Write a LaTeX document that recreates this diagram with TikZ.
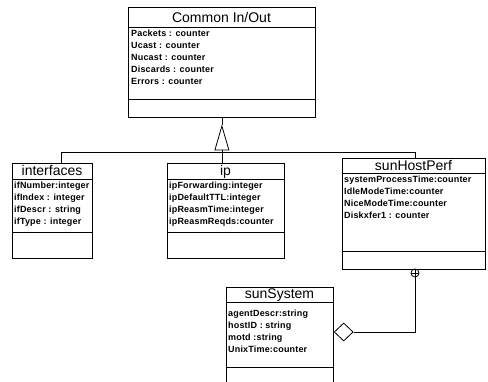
\documentclass[tikz,border=0pt]{standalone}
\usepackage{fontspec}
\setmainfont{Liberation Sans}
\newfontfamily\attrfont[LetterSpace=2]{Liberation Sans}
\usetikzlibrary{shapes.geometric}

\tikzset{
  classbox/.style={draw, line width=0.8pt, rectangle, anchor=north west, inner sep=0pt},
  classtitle/.style={anchor=base, inner sep=0pt, font=\fontsize{14}{16}\selectfont},
  attr/.style={anchor=base west, inner sep=0pt, font=\attrfont\bfseries\fontsize{9}{10}\selectfont},
  conn/.style={line width=0.8pt},
}

\begin{document}
\begin{tikzpicture}[x=1pt, y=-1pt]
\useasboundingbox (0,0) rectangle (488,381);
\clip (0,0) rectangle (488,381);
%
% Common In/Out
\node[classbox, minimum width=187pt, minimum height=110pt] (common) at (128,7) {};
\draw[conn] (common.west |- 0,27) -- (common.east |- 0,27);
\draw[conn] (common.west |- 0,99) -- (common.east |- 0,99);
\node[classtitle] (common-t) at (221.5,22.5) {Common In/Out};
\foreach \txt [count=\i] in {Packets : counter, Ucast : counter, Nucast : counter, Discards : counter, Errors : counter}
  \node[attr] (common-a\i) at (131,24+12*\i) {\txt};
%
% interfaces
\node[classbox, minimum width=80pt, minimum height=95pt] (interfaces) at (12,163) {};
\draw[conn] (interfaces.west |- 0,179) -- (interfaces.east |- 0,179);
\draw[conn] (interfaces.west |- 0,232) -- (interfaces.east |- 0,232);
\node[classtitle] (interfaces-t) at (52,175.5) {interfaces};
\foreach \txt [count=\i] in {ifNumber:integer, ifIndex : integer, ifDescr : string, ifType : integer}
  \node[attr] (interfaces-a\i) at (14,176+12*\i) {\txt};
%
% ip
\node[classbox, minimum width=117pt, minimum height=95pt] (ip) at (167,163) {};
\draw[conn] (ip.west |- 0,179) -- (ip.east |- 0,179);
\draw[conn] (ip.west |- 0,232) -- (ip.east |- 0,232);
\node[classtitle] (ip-t) at (225.5,175.5) {ip};
\foreach \txt [count=\i] in {ipForwarding:integer, ipDefaultTTL:integer, ipReasmTime:integer, ipReasmReqds:counter}
  \node[attr] (ip-a\i) at (169,176+12*\i) {\txt};
%
% sunHostPerf
\node[classbox, minimum width=143pt, minimum height=111pt] (host) at (342,158) {};
\draw[conn] (host.west |- 0,173) -- (host.east |- 0,173);
\draw[conn] (host.west |- 0,251) -- (host.east |- 0,251);
\node[classtitle] (host-t) at (413.5,170) {sunHostPerf};
\foreach \txt [count=\i] in {systemProcessTime:counter, IdleModeTime:counter, NiceModeTime:counter, Diskxfer1 : counter}
  \node[attr] (host-a\i) at (344,170+12*\i) {\txt};
%
% sunSystem
\node[classbox, minimum width=107pt, minimum height=110pt] (sys) at (226,287) {};
\draw[conn] (sys.west |- 0,302) -- (sys.east |- 0,302);
\draw[conn] (sys.west |- 0,367) -- (sys.east |- 0,367);
\node[classtitle] (sys-t) at (279.5,298.5) {sunSystem};
\foreach \txt [count=\i] in {agentDescr:string, hostID : string, motd :string, UnixTime:counter}
  \node[attr] (sys-a\i) at (228,304+12*\i) {\txt};
%
% generalisation
\node[isosceles triangle, isosceles triangle stretches, shape border rotate=90, draw, line width=0.8pt,
      minimum width=14pt, minimum height=24pt, inner sep=0pt, anchor=apex] (gen) at (common.south |- 0,125) {};
\draw[conn] (common.south) -- (gen.apex);
\draw[conn] (gen.lower side) -- (gen.lower side |- ip.north);
\coordinate (tl) at (61,152);
\coordinate (tr) at (415,152);
\draw[conn] (tl |- interfaces.north) -- (tl) -- (tr) -- (tr |- host.north);
%
% aggregation
\node[circle, draw, line width=0.8pt, minimum size=8pt, inner sep=0pt] (comp) at (415,273) {};
\draw[thin] (comp.north) -- (comp.south) (comp.west) -- (comp.east);
\node[diamond, draw, line width=0.8pt, fill=white, minimum width=19pt, minimum height=18pt,
      inner sep=0pt, anchor=west] (agg) at (sys.east |- 0,332) {};
\draw[conn] (agg.east) -- (agg.east -| comp) -- (comp.south);
\end{tikzpicture}
\end{document}
